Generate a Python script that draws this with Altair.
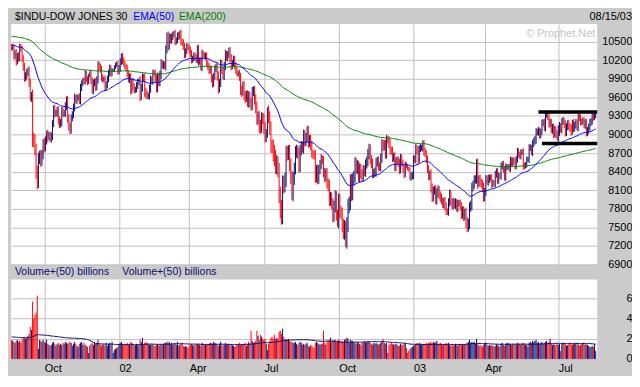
import altair as alt
import pandas as pd

# ---------------- data (daily, Aug 15 2001 .. Aug 15 2003) ----------------
close = [
    # Aug 01
    10395, 10414, 10263, 10320, 10174, 10276, 10229, 10423, 10382, 10222, 10091, 9919, 9950,
    # Sep 01
    9998, 10033, 9841, 9606, 9606, 8921, 8903, 8759, 8376, 8236, 8604, 8660, 8567, 8681, 8848,
    # Oct 01
    8800, 8900, 9000, 8960, 8990, 8940, 8960, 9180, 9411, 9345, 9349, 9386, 9232, 9163, 9205, 9377,
    9341, 9345, 9462, 9545, 9269, 9121, 9075,
    # Nov 01
    9263, 9324, 9442, 9591, 9554, 9588, 9608, 9554, 9750, 9823, 9872, 9866, 9976, 9901, 9835, 9960,
    9982, 9872, 9711, 9829, 9851,
    # Dec 01
    9763, 9893, 10114, 10097, 10049, 9921, 9888, 9895, 9767, 9811, 9892, 9998, 10071, 9984, 10035,
    10036, 10088, 10132, 10137, 10021,
    # Jan 02
    10073, 10172, 10259, 10197, 10150, 10094, 10067, 9987, 9891, 9924, 9712, 9850, 9771, 9713, 9730,
    9796, 9840, 9865, 9618, 9762, 9920,
    # Feb 02
    9908, 9688, 9653, 9625, 9625, 9744, 9884, 9865, 9990, 9989, 9903, 9745, 9941, 9834, 9968, 10146,
    10115, 10127, 10106,
    # Mar 02
    10368, 10586, 10433, 10574, 10525, 10573, 10612, 10632, 10502, 10517, 10608, 10577, 10635, 10501,
    10479, 10427, 10281, 10353, 10427, 10404,
    # Apr 02
    10362, 10313, 10198, 10235, 10271, 10249, 10208, 10381, 10176, 10191, 10094, 10302, 10290, 10257,
    10270, 10150, 10095, 10036, 10043, 9910, 9819, 9946,
    # May 02
    10059, 10091, 9940, 9740, 9837, 10142, 10037, 9940, 10109, 10298, 10244, 10289, 10353, 10229,
    10106, 10157, 10216, 10105, 10034, 9982, 9990, 9925,
    # Jun 02
    9709, 9688, 9796, 9624, 9589, 9645, 9517, 9620, 9502, 9474, 9688, 9706, 9562, 9431, 9253, 9281,
    9126, 9120, 9269, 9243,
    # Jul 02
    9109, 8959, 9008, 9380, 9275, 9097, 8813, 8801, 8684, 8640, 8474, 8550, 8410, 8019, 7784, 7702,
    8191, 8187, 8264, 8712, 8680, 8737,
    # Aug 02
    8507, 8313, 8043, 8275, 8456, 8712, 8745, 8689, 8483, 8743, 8818, 8778, 8991, 8885, 8958, 9053,
    8872, 8919, 8825, 8694, 8670, 8664,
    # Sep 02
    8308, 8426, 8284, 8428, 8520, 8602, 8581, 8379, 8313, 8380, 8207, 8172, 7942, 7986, 7873, 7683,
    7841, 7997, 7701, 7592,
    # Oct 02
    7938, 7755, 7717, 7528, 7422, 7501, 7286, 7534, 7850, 7877, 8255, 8036, 8275, 8322, 8538, 8451,
    8495, 8318, 8444, 8368, 8325, 8427, 8397,
    # Nov 02
    8518, 8571, 8678, 8771, 8586, 8537, 8358, 8386, 8399, 8542, 8579, 8487, 8474, 8623, 8846, 8805,
    8849, 8676, 8932, 8896,
    # Dec 02
    8863, 8743, 8737, 8623, 8645, 8473, 8574, 8589, 8538, 8433, 8627, 8536, 8448, 8365, 8512, 8493,
    8448, 8433, 8304, 8332, 8342,
    # Jan 03
    8607, 8601, 8774, 8740, 8595, 8776, 8785, 8785, 8843, 8724, 8698, 8587, 8443, 8319, 8369, 8131,
    7989, 8088, 8111, 7946, 8054,
    # Feb 03
    8110, 8013, 7985, 7930, 7865, 7920, 7843, 7758, 7749, 7909, 8042, 7915, 7850, 7915, 7858, 7909,
    7806, 7885, 7891,
    # Mar 03
    7838, 7705, 7776, 7673, 7740, 7568, 7524, 7552, 7821, 7859, 8141, 8195, 8266, 8286, 8522, 8214,
    8280, 8229, 8201, 8145, 7992,
    # Apr 03
    8069, 8285, 8241, 8277, 8300, 8299, 8198, 8221, 8203, 8351, 8402, 8257, 8338, 8328, 8485, 8516,
    8441, 8307, 8472, 8472, 8480,
    # May 03
    8455, 8583, 8531, 8589, 8561, 8492, 8604, 8726, 8679, 8647, 8713, 8719, 8493, 8491, 8516, 8595,
    8601, 8782, 8793, 8711, 8850,
    # Jun 03
    8898, 8922, 9038, 9041, 9062, 8980, 9054, 9183, 9196, 9117, 9318, 9323, 9293, 9179, 9200, 9072,
    9109, 9011, 9079, 8989, 8985,
    # Jul 03
    9040, 9142, 9070, 9216, 9224, 9156, 9037, 9120, 9178, 9128, 9095, 9050, 9189, 9097, 9158, 9194,
    9112, 9284, 9266, 9204, 9200, 9234,
    # Aug 03
    9153, 9186, 9036, 9061, 9126, 9191, 9218, 9310, 9272, 9310, 9321,
]

# intraday extension beyond the open (≈ previous close) and the close
wick = [
    40, 35, 50, 45, 60, 40, 55, 45, 40, 50, 60, 70, 55,
    60, 50, 70, 60, 80, 120, 110, 100, 90, 120, 100, 80, 90, 70, 80,
    90, 70, 60, 80, 50, 60, 70, 50, 60, 70, 50, 60, 70, 60, 50, 70, 60, 50, 60, 70, 80, 60, 70,
    60, 50, 60, 70, 50, 60, 40, 60, 70, 50, 40, 50, 60, 50, 40, 20, 40, 60, 50, 60, 50,
    60, 50, 70, 60, 50, 60, 50, 40, 60, 50, 60, 50, 60, 50, 40, 20, 30, 30, 40, 50,
    50, 60, 50, 60, 50, 40, 50, 60, 50, 60, 70, 50, 60, 50, 40, 50, 60, 40, 80, 60, 70,
    60, 80, 70, 60, 50, 60, 70, 50, 60, 50, 60, 70, 60, 50, 60, 70, 50, 60, 50,
    70, 60, 80, 60, 50, 60, 50, 40, 60, 50, 40, 50, 40, 60, 50, 60, 50, 40, 50, 40,
    50, 60, 50, 40, 50, 60, 50, 60, 70, 50, 60, 70, 50, 40, 50, 60, 50, 60, 50, 70, 60, 50,
    60, 50, 70, 80, 60, 70, 60, 50, 60, 70, 50, 60, 50, 60, 70, 50, 60, 50, 60, 50, 40, 60,
    70, 80, 60, 70, 80, 60, 70, 80, 70, 90, 80, 70, 80, 90, 100, 90, 100, 110, 90, 80,
    100, 90, 80, 60, 90, 100, 110, 100, 120, 150, 110, 120, 100, 130, 140, 160, 150, 140, 120, 110, 100, 90,
    100, 110, 100, 120, 90, 100, 90, 80, 100, 90, 80, 70, 90, 80, 70, 80, 90, 70, 80, 70, 60, 70,
    90, 80, 90, 80, 70, 80, 60, 70, 80, 70, 80, 90, 100, 90, 80, 100, 90, 100, 90, 80,
    110, 100, 90, 100, 110, 120, 100, 130, 110, 120, 100, 110, 100, 90, 100, 80, 90, 80, 90, 80, 70, 80, 70,
    80, 70, 90, 80, 70, 80, 70, 60, 70, 80, 60, 70, 60, 70, 80, 70, 60, 70, 60, 40,
    80, 70, 60, 70, 60, 70, 60, 50, 60, 70, 60, 50, 60, 70, 50, 40, 30, 30, 40, 50, 60,
    60, 50, 70, 60, 70, 50, 60, 50, 60, 70, 60, 50, 70, 60, 50, 70, 80, 70, 60, 70, 80,
    70, 60, 70, 60, 50, 60, 70, 60, 50, 60, 70, 60, 50, 60, 50, 60, 50, 60, 50,
    60, 70, 60, 70, 60, 80, 100, 90, 80, 70, 80, 60, 70, 60, 80, 90, 60, 70, 60, 70, 80,
    70, 60, 50, 70, 60, 50, 60, 50, 40, 60, 50, 60, 50, 40, 60, 50, 60, 50, 60, 50, 40,
    50, 60, 50, 40, 50, 60, 50, 60, 50, 40, 50, 40, 60, 50, 40, 50, 40, 60, 50, 40, 60,
    50, 60, 70, 50, 60, 50, 40, 60, 50, 60, 70, 50, 60, 70, 60, 50, 60, 70, 60, 50, 80,
    110, 60, 40, 50, 60, 50, 70, 60, 50, 60, 50, 70, 50, 60, 50, 60, 50, 60, 50, 60, 50, 40,
    50, 60, 70, 60, 50, 60, 50, 60, 50, 40, 50,
]

# daily volume, billions
volume = [
    1.9, 1.8, 1.7, 1.6, 1.8, 1.9, 1.7, 1.8, 1.6, 1.9, 2.1, 2.2, 2.0,
    2.1, 2.3, 2.5, 3.2, 2.9, 5.7, 4.0, 4.4, 4.6, 6.3, 1.0, 1.9, 1.8, 1.7, 1.9,
    1.7, 1.6, 1.9, 1.5, 1.4, 1.3, 1.4, 1.6, 1.7, 1.5, 1.3, 1.5, 1.6, 1.4, 1.5, 1.4, 1.6, 1.5, 1.7, 1.6, 1.5, 1.6, 1.7,
    1.6, 1.3, 1.5, 1.7, 1.5, 1.3, 1.2, 1.5, 1.6, 1.7, 1.4, 1.6, 1.4, 1.3, 1.2, 0.6, 1.3, 1.5, 1.6, 1.4, 1.7,
    1.5, 1.6, 1.9, 1.5, 1.4, 1.3, 1.5, 1.4, 1.3, 1.6, 1.3, 1.5, 1.6, 1.4, 1.7, 0.6, 0.9, 1.0, 1.1, 1.2,
    1.5, 1.6, 1.7, 1.5, 1.4, 1.5, 1.4, 1.6, 1.5, 1.4, 1.7, 1.6, 1.5, 1.3, 1.4, 1.5, 1.4, 1.3, 1.9, 1.7, 2.1,
    1.5, 1.6, 1.7, 1.6, 1.5, 1.4, 1.4, 1.5, 1.4, 1.3, 1.3, 1.4, 1.5, 1.4, 1.3, 1.5, 1.4, 1.5, 1.6,
    1.6, 1.7, 1.6, 1.7, 1.5, 1.6, 1.4, 1.5, 1.5, 1.4, 1.7, 1.3, 1.4, 1.5, 1.6, 1.3, 1.2, 1.3, 1.2, 1.1,
    1.3, 1.4, 1.5, 1.4, 1.3, 1.4, 1.4, 1.5, 1.5, 1.4, 1.3, 1.6, 1.5, 1.4, 1.4, 1.4, 1.5, 1.5, 1.6, 1.6, 1.5, 1.7,
    1.6, 1.5, 1.4, 1.3, 1.5, 1.7, 1.4, 1.3, 1.4, 1.6, 1.5, 1.4, 1.5, 1.3, 1.4, 1.4, 1.3, 1.2, 1.3, 1.4, 1.4, 1.6,
    1.4, 1.5, 1.4, 1.5, 1.6, 1.3, 1.5, 1.7, 1.5, 2.8, 1.8, 1.6, 1.7, 1.8, 2.8, 2.3, 1.9, 2.4, 2.2, 2.0,
    1.9, 2.0, 1.5, 0.9, 1.5, 1.8, 2.1, 2.2, 2.0, 2.4, 2.0, 2.1, 2.0, 2.7, 2.8, 2.5, 3.0, 2.2, 1.8, 2.0, 1.9, 2.0,
    1.8, 1.7, 1.7, 1.6, 1.6, 1.7, 1.5, 1.4, 1.6, 1.7, 1.6, 1.4, 1.5, 1.4, 1.5, 1.6, 1.3, 1.2, 1.4, 1.3, 1.2, 1.1,
    1.6, 1.7, 1.6, 1.5, 1.4, 1.5, 1.5, 2.8, 1.6, 1.4, 1.7, 1.8, 1.9, 2.1, 1.7, 1.9, 1.8, 1.9, 1.7, 1.8,
    1.9, 1.8, 1.7, 1.8, 1.7, 1.9, 2.0, 2.1, 2.0, 1.6, 1.9, 1.8, 1.8, 1.6, 1.6, 1.5, 1.7, 1.6, 1.5, 1.4, 1.6, 1.6, 1.8,
    1.7, 1.6, 1.8, 1.7, 1.6, 1.5, 1.4, 1.6, 1.5, 1.6, 1.5, 1.4, 1.5, 1.6, 1.8, 2.0, 1.6, 1.5, 1.6, 0.6,
    1.4, 1.5, 1.6, 1.5, 1.4, 1.5, 1.5, 1.4, 1.3, 1.3, 1.5, 1.4, 1.4, 1.5, 1.6, 1.1, 0.6, 0.8, 1.0, 1.1, 1.2,
    1.3, 1.4, 1.5, 1.6, 1.5, 1.6, 1.5, 1.4, 1.5, 1.4, 1.5, 1.6, 1.5, 1.6, 1.6, 1.7, 1.6, 1.7, 1.6, 1.7, 1.8,
    1.5, 1.5, 1.6, 1.5, 1.4, 1.4, 1.5, 1.6, 1.5, 1.6, 1.4, 1.3, 1.4, 1.3, 1.4, 1.5, 1.4, 1.3, 1.4,
    1.4, 1.5, 1.4, 1.5, 1.4, 1.5, 1.6, 1.7, 1.9, 1.6, 1.7, 1.6, 1.7, 1.5, 2.0, 1.5, 1.3, 1.4, 1.3, 1.2, 1.4,
    1.6, 1.6, 1.4, 1.3, 1.4, 1.3, 1.4, 1.3, 1.2, 1.3, 1.5, 1.4, 1.3, 1.2, 1.5, 1.6, 1.4, 1.3, 1.5, 1.6, 1.6,
    1.5, 1.5, 1.4, 1.5, 1.4, 1.5, 1.4, 1.6, 1.5, 1.5, 1.4, 1.5, 1.6, 1.5, 1.4, 1.4, 1.2, 1.6, 1.7, 1.6, 1.8,
    1.7, 1.8, 1.9, 1.6, 1.7, 1.5, 1.6, 1.7, 1.5, 1.6, 1.7, 1.8, 1.6, 1.7, 2.0, 1.5, 1.4, 1.5, 1.4, 1.4, 1.5,
    1.4, 1.5, 0.8, 1.5, 1.6, 1.6, 1.5, 1.3, 1.4, 1.5, 1.6, 1.5, 1.4, 1.5, 1.6, 1.5, 1.4, 1.6, 1.3, 1.4, 1.5, 1.6,
    1.5, 1.4, 1.5, 1.4, 1.3, 1.2, 1.2, 1.3, 1.2, 1.5, 0.8,
]

prev_close_start = 10425
month_days = [13, 15, 23, 21, 20, 21, 19, 20, 22, 22, 20, 22, 22, 20, 23, 20, 21,
              21, 19, 21, 21, 21, 21, 22, 11]
quarter_month_pos = [2, 5, 8, 11, 14, 17, 20, 23]
quarter_labels = ["Oct", "02", "Apr", "Jul", "Oct", "03", "Apr", "Jul"]
price_ticks = [6900, 7200, 7500, 7800, 8100, 8400, 8700, 9000, 9300, 9600, 9900, 10200, 10500]
volume_ticks = [0, 2, 4, 6]
ema50_seed = 10450
ema200_seed = 10590
volma_seed = 2.2
level_price = [9365, 8855]
level_start = [451, 454]
level_end = [501.3, 501.3]

# ---------------- derived table ----------------
n = min(len(close), len(wick), len(volume))


def ema(vals, span, seed):
    a = 2.0 / (span + 1)
    e = seed
    out = []
    for v in vals:
        e += a * (v - e)
        out.append(e)
    return out


rows = []
prev = prev_close_start
for i in range(n):
    c = close[i]
    rows.append(dict(i=i, close=c, high=max(c, prev) + wick[i], low=min(c, prev) - wick[i],
                     dir="up" if c >= prev else "down", vol=volume[i], zero=0))
    prev = c
df = pd.DataFrame(rows)
df["ema50"] = ema(close[:n], 50, ema50_seed)
df["ema200"] = ema(close[:n], 200, ema200_seed)
vpad = [volma_seed] * 49 + volume[:n]
df["volma"] = [sum(vpad[k:k + 50]) / 50 for k in range(n)]

q_idx = [sum(month_days[:m]) for m in quarter_month_pos]
label_expr = " : ".join(f"datum.value == {v} ? '{l}'" for v, l in zip(q_idx, quarter_labels)) + " : ''"

# ---------------- style ----------------
NAVY = "#0c0c70"
RED = "#ff0000"
BLUE = "#0000ff"
GREEN = "#008000"
GRID = "#c0c0c0"
BG = "#cbcbcb"
FONT = "Liberation Sans, Arial, sans-serif"
W, HP, HV = 590, 242, 80
XDOM = [-0.5, 501.3]

xscale = alt.Scale(domain=XDOM, nice=False, zero=False)
pscale = alt.Scale(domain=[6900, 10784], nice=False, zero=False)
vscale = alt.Scale(domain=[0, 7.9], nice=False, zero=True)
color_enc = alt.Color("dir:N", scale=alt.Scale(domain=["up", "down"], range=[NAVY, RED]), legend=None)


def label(text, x, y, color, size, align="left"):
    return alt.Chart(pd.DataFrame({"t": [text]})).mark_text(
        align=align, baseline="middle", fontSize=size, font=FONT, color=color
    ).encode(x=alt.value(x), y=alt.value(y), text="t:N")


def yaxis(ticks):
    return alt.Axis(orient="right", values=ticks, format="d", grid=True, gridColor=GRID, gridWidth=1,
                    ticks=False, domain=False, labelAlign="right", labelBaseline="middle",
                    labelPadding=35, labelFontSize=11, labelFont=FONT, labelColor="black",
                    labelOverlap=False, labelSeparation=0, labelBound=False, title=None)


px_axis = alt.Axis(values=q_idx, labels=False, ticks=False, domain=False, grid=True,
                   gridColor=GRID, gridWidth=1, title=None)
vx_axis = alt.Axis(values=q_idx, labelExpr=label_expr, grid=True, gridColor=GRID, gridWidth=1,
                   ticks=False, domain=False, labelAlign="left", labelBaseline="top",
                   labelPadding=4, labelFontSize=11, labelFont=FONT, labelColor="black",
                   labelFlush=False, labelOverlap=False, labelSeparation=0, title=None)
py_axis = yaxis(price_ticks)
vy_axis = yaxis(volume_ticks)


def PX(field):
    return alt.X(field, scale=xscale, axis=px_axis, title=None)


def PY(field):
    return alt.Y(field, scale=pscale, axis=py_axis, title=None)


def VX(field):
    return alt.X(field, scale=xscale, axis=vx_axis, title=None)


def VY(field):
    return alt.Y(field, scale=vscale, axis=vy_axis, title=None)


# ---------------- price panel ----------------
pbase = alt.Chart(df)
bars = pbase.mark_rule(strokeWidth=1).encode(x=PX("i:Q"), y=PY("low:Q"), y2="high:Q", color=color_enc)
e200 = pbase.mark_line(color=GREEN, strokeWidth=1).encode(x=PX("i:Q"), y=PY("ema200:Q"))
e50 = pbase.mark_line(color=BLUE, strokeWidth=1).encode(x=PX("i:Q"), y=PY("ema50:Q"))
lev = alt.Chart(pd.DataFrame({"p": level_price, "s": level_start, "e": level_end})).mark_rule(
    color="black", strokeWidth=3.5, strokeCap="butt"
).encode(x=PX("s:Q"), x2="e:Q", y=PY("p:Q"))

price = alt.layer(
    bars, e200, e50, lev,
    label("$INDU-DOW JONES 30", 4, -7, "black", 10.5),
    label("EMA(50)", 123, -7, BLUE, 10.5),
    label("EMA(200)", 169, -7, GREEN, 10.5),
    label("08/15/03", W + 35, -7, "black", 11, "right"),
    label("© Prophet.Net", W - 2, 10, "#c4c4c4", 11, "right"),
).properties(width=W, height=HP)

# ---------------- volume panel ----------------
vbars = alt.Chart(df).mark_rule(strokeWidth=1).encode(x=VX("i:Q"), y=VY("vol:Q"), y2="zero:Q", color=color_enc)
vma = alt.Chart(df).mark_line(color=NAVY, strokeWidth=1).encode(x=VX("i:Q"), y=VY("volma:Q"))

vol = alt.layer(
    vbars, vma,
    label("Volume+(50) billions", 4, -7, NAVY, 10.5),
    label("Volume+(50) billions", 112, -7, NAVY, 10.5),
).properties(width=W, height=HV)

chart = alt.vconcat(price, vol, spacing=15, bounds="flush").properties(
    background=BG, padding={"left": 1, "top": 2, "right": 0, "bottom": 1}
).configure_view(stroke=None, fill="white")

chart.save("out.html", embed_options={"renderer": "svg", "actions": False})
